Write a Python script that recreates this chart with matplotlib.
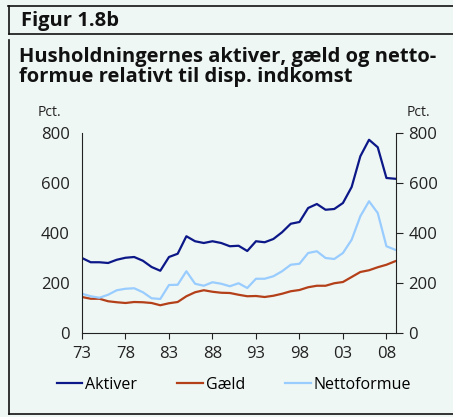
import matplotlib.pyplot as plt
from matplotlib.lines import Line2D

YEARS = list(range(1973, 2010))
AKTIVER = [300, 283, 283, 280, 293, 301, 304, 289, 264, 249,
           304, 317, 387, 367, 360, 367, 360, 347, 349, 328,
           367, 363, 376, 403, 437, 444, 500, 516, 493, 496,
           520, 584, 707, 773, 743, 620, 617]
GAELD = [144, 137, 137, 127, 123, 120, 124, 123, 120, 111,
         119, 124, 147, 163, 171, 165, 161, 160, 153, 147,
         148, 144, 149, 157, 167, 172, 183, 189, 189, 199,
         204, 224, 244, 251, 263, 273, 287]
NETTO = [157, 147, 141, 153, 171, 177, 179, 163, 139, 136,
         192, 193, 247, 197, 189, 203, 197, 187, 199, 180,
         217, 217, 227, 247, 273, 277, 320, 327, 300, 296,
         320, 373, 467, 527, 480, 347, 333]
XTICKS = [1973, 1978, 1983, 1988, 1993, 1998, 2003, 2008]
XLABELS = ["73", "78", "83", "88", "93", "98", "03", "08"]
YTICKS = [0, 200, 400, 600, 800]

BG = "#eff7f4"
NAVY = "#0c1888"
RUST = "#b4401a"
LIGHT = "#99ccff"

plt.rcParams["font.family"] = ["Open Sans", "DejaVu Sans"]

W, H = 453, 417
fig = plt.figure(figsize=(W / 100, H / 100), dpi=100)
fig.patch.set_facecolor(BG)

ax = fig.add_axes([82 / W, 1 - 333 / H, (396 - 82) / W, 200 / H])
ax.set_facecolor(BG)
ax.plot(YEARS, AKTIVER, color=NAVY, lw=1.6, label="Aktiver")
ax.plot(YEARS, GAELD, color=RUST, lw=1.6, label="Gæld")
ax.plot(YEARS, NETTO, color=LIGHT, lw=1.6, label="Nettoformue")

ax.set_xlim(1973, 2009.1)
ax.set_ylim(0, 800)
ax.set_xticks(XTICKS)
ax.set_xticklabels(XLABELS)
ax.set_yticks(YTICKS)
ax.tick_params(axis="x", direction="out", length=4, width=0.8,
               labelsize=12, pad=5, colors="#222")
ax.tick_params(axis="y", which="both", left=False, right=True,
               labelleft=True, labelright=True, direction="out",
               length=5, width=0.8, labelsize=12, pad=4, colors="#222")
ax.spines["top"].set_visible(False)
for s in ["left", "right", "bottom"]:
    ax.spines[s].set_color("#222")
    ax.spines[s].set_linewidth(0.8)

fig.text(38 / W, 1 - 112 / H, "Pct.", fontsize=10, ha="left", va="center", color="#222")
fig.text(407 / W, 1 - 112 / H, "Pct.", fontsize=10, ha="left", va="center", color="#222")

# header and frame
fig.text(21 / W, 1 - 21 / H, "Figur 1.8b", fontsize=14.5, fontweight="bold",
         ha="left", va="center", color="#111")
fig.text(19 / W, 1 - 67 / H,
         "Husholdningernes aktiver, gæld og netto-\nformue relativt til disp. indkomst",
         fontsize=14.5, fontweight="bold", ha="left", va="center",
         linespacing=1.05, color="#111")

def fline(x0, y0, x1, y1):
    fig.add_artist(Line2D([x0 / W, x1 / W], [1 - y0 / H, 1 - y1 / H],
                          color="#111", lw=1.2))

fline(8, 6, W, 6)
fline(9, 6, 9, 34)
fline(9, 34, W, 34)
fline(9, 40, 9, 414)
fline(9, 414, W, 414)

fig.legend(loc="center", bbox_to_anchor=(234 / W, 1 - 385 / H), ncol=3,
           frameon=False, fontsize=11.5, handlelength=1.6, handletextpad=0.2,
           columnspacing=2.5)

fig.savefig("out.png", dpi=100, facecolor=BG)
